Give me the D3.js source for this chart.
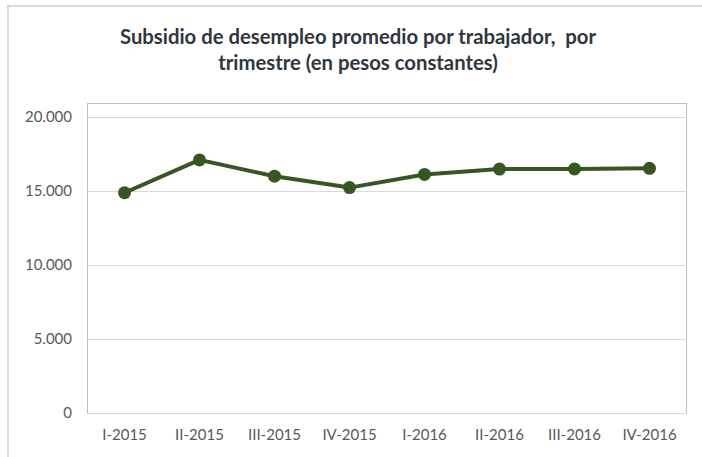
<!DOCTYPE html>
<html><head><meta charset="utf-8">
<script src="https://cdn.jsdelivr.net/npm/d3@7"></script>
<style>
html,body{margin:0;padding:0;background:#fff;}
svg{display:block;}
</style></head>
<body>
<svg id="chart" width="702" height="457"></svg>
<script>
const categories = ["I-2015","II-2015","III-2015","IV-2015","I-2016","II-2016","III-2016","IV-2016"];
const values = [14880, 17100, 16000, 15230, 16120, 16480, 16490, 16530];
const yTicks = [0, 5000, 10000, 15000, 20000];
const yTickLabels = ["0", "5.000", "10.000", "15.000", "20.000"];
const titleLines = ["Subsidio de desempleo promedio por trabajador,  por", "trimestre (en pesos constantes)"];

const svg = d3.select("#chart");
const font = "Lato, 'Open Sans', sans-serif";

// outer chart border
svg.append("rect").attr("x", 8).attr("y", 6).attr("width", 720).attr("height", 480)
  .attr("fill", "none").attr("stroke", "#d9d9d9").attr("stroke-width", 2);

const plot = {left: 87, right: 687, top: 103, bottom: 413};
const x = d3.scaleBand().domain(categories).range([plot.left, plot.right]);
const y = d3.scaleLinear().domain([0, 20000]).range([plot.bottom, 117]);

// plot area border
svg.append("rect").attr("x", plot.left + 0.5).attr("y", plot.top + 0.5)
  .attr("width", plot.right - plot.left - 1).attr("height", plot.bottom - plot.top)
  .attr("fill", "none").attr("stroke", "#bfbfbf").attr("stroke-width", 1);

// gridlines
const yAxis = d3.axisLeft(y).tickValues(yTicks).tickSize(-(plot.right - plot.left)).tickFormat((d, i) => yTickLabels[i]).tickPadding(15);
const gy = svg.append("g").attr("transform", `translate(${plot.left},0)`).call(yAxis);
gy.select(".domain").remove();
gy.selectAll(".tick line").attr("stroke", "#d9d9d9").attr("stroke-width", 1);
gy.selectAll(".tick text").attr("fill", "#595959").style("font-family", font).style("font-size", "15px");

const xAxis = d3.axisBottom(x).tickSize(0).tickPadding(16);
const gx = svg.append("g").attr("transform", `translate(0,${plot.bottom})`).call(xAxis);
gx.select(".domain").remove();
gx.selectAll(".tick text").attr("fill", "#595959").style("font-family", font).style("font-size", "15px");

// line
const line = d3.line().x((d, i) => x(categories[i]) + x.bandwidth() / 2).y(d => y(d));
svg.append("path").datum(values).attr("d", line)
  .attr("fill", "none").attr("stroke", "#375623").attr("stroke-width", 4).attr("stroke-linejoin", "round");
svg.selectAll("circle.pt").data(values).enter().append("circle").attr("class", "pt")
  .attr("cx", (d, i) => x(categories[i]) + x.bandwidth() / 2)
  .attr("cy", d => y(d)).attr("r", 6.5).attr("fill", "#375623");

// title
const t = svg.append("g");
titleLines.forEach((s, i) => {
  t.append("text").attr("x", 358).attr("y", 44 + i * 26).attr("text-anchor", "middle")
    .attr("fill", "#2f3640").style("font-family", font).style("font-weight", "bold").style("font-size", "20.3px")
    .style("white-space", "pre").text(s);
});
</script>
</body></html>
